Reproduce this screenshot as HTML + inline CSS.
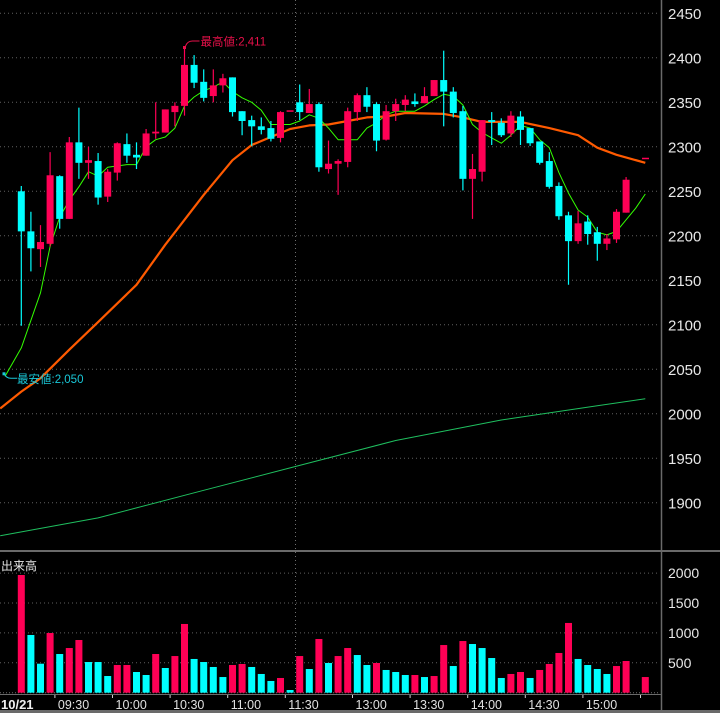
<!DOCTYPE html>
<html><head><meta charset="utf-8">
<style>
html,body{margin:0;padding:0;background:#000;}
svg{display:block;}
text{font-family:"Liberation Sans","Noto Sans CJK JP",sans-serif;}
</style></head>
<body>
<svg id="chart" width="720" height="713" viewBox="0 0 720 713" xmlns="http://www.w3.org/2000/svg">
<rect x="0" y="0" width="720" height="713" fill="#000"/>
<g id="grid"></g>
<g id="ma"></g>
<g id="candles"></g>
<g id="vol"></g>
<g id="axes"></g>
</svg>
<script>
const opens  = [2250,2205,2185,2191,2267,2219,2305,2282,2284,2244,2271,2303,2291,2290,2315,2316,2339,2346,2392,2373,2357,2369,2378,2340,2330,2323,2321,2310,2341,2350,2338,2348,2275,2281,2283,2339,2358,2348,2308,2340,2347,2351,2349,2357,2375,2362,2340,2264,2272,2330,2327,2315,2334,2321,2306,2284,2256,2223,2194,2216,2204,2191,2196,2226];
const highs  = [2256,2227,2212,2294,2268,2311,2344,2300,2293,2275,2305,2315,2305,2320,2350,2342,2350,2411,2403,2387,2387,2382,2378,2340,2335,2333,2329,2340,2341,2370,2365,2350,2307,2286,2344,2360,2367,2350,2347,2354,2358,2360,2367,2375,2408,2367,2346,2292,2330,2339,2332,2340,2340,2321,2306,2294,2260,2227,2228,2223,2210,2202,2230,2266];
const lows   = [2099,2160,2165,2188,2208,2219,2264,2264,2235,2238,2262,2282,2275,2290,2309,2316,2323,2335,2366,2351,2350,2361,2334,2313,2301,2314,2306,2305,2341,2330,2338,2272,2270,2246,2277,2329,2339,2295,2307,2329,2340,2345,2349,2357,2323,2333,2251,2219,2261,2302,2311,2311,2302,2301,2280,2253,2218,2145,2191,2190,2172,2184,2192,2226];
const closes = [2205,2186,2193,2268,2219,2305,2282,2285,2243,2272,2304,2290,2288,2315,2317,2342,2346,2392,2372,2355,2369,2377,2339,2329,2323,2319,2309,2339,2341,2339,2348,2277,2281,2284,2340,2358,2345,2307,2340,2348,2353,2348,2357,2375,2362,2338,2264,2275,2330,2328,2313,2335,2319,2304,2282,2255,2222,2194,2214,2202,2191,2197,2227,2263];
const volumes = [1968,965,485,998,647,747,881,513,513,279,463,463,346,296,647,413,613,1149,564,513,430,262,463,480,430,313,196,246,45,613,396,898,497,613,747,630,463,497,380,346,296,296,262,279,797,446,864,814,747,580,246,313,346,246,380,480,664,1166,564,463,396,313,446,530,0,262];
const volUp = [1,0,0,1,0,1,1,0,0,0,1,1,0,0,1,0,1,1,0,0,0,0,1,1,0,0,0,1,0,1,0,1,0,1,1,0,0,1,0,0,0,1,0,1,1,0,1,0,0,0,0,1,1,0,1,1,1,1,0,0,0,0,1,1,0,1];
const maShortIdx = [-1.7,0,2,3,4,5,6,7,8,9,11,12,13,14,15,16,17,18,19,20,21,22,23,24,25,26,27,28,29,30,31,32,33,34,35,36,37,38,39,40,41,42,43,44,45,46,47,48,49,50,51,52,53,54,55,56,57,58,59,60,61,62,63,64,65];
const maShort = [2042,2074,2136,2188,2221,2240,2255,2272,2267,2277,2280,2280,2300,2308,2311,2321,2346,2356,2363,2367,2373,2362,2355,2350,2341,2325,2325,2325,2329,2336,2332,2321,2308,2308,2308,2321,2327,2336,2340,2340,2340,2346,2353,2359,2357,2347,2325,2316,2310,2304,2313,2324,2321,2308,2299,2271,2248,2229,2221,2204,2201,2205,2218,2231,2247];
const maMidIdx = [-2.2,0,2,5,8,12,15,19,22,24,26,28,30,32,34,36,38,40,44,46,48,52,55,58,60,62,65];
const maMid = [2006,2025,2040,2072,2103,2145,2190,2246,2285,2302,2311,2320,2324,2325,2329,2333,2334,2338,2337,2333,2328,2328,2321,2313,2299,2291,2282];
const maLongIdx = [-2.2,8,19,29,39,50,60,65];
const maLong = [1863,1883,1914,1942,1970,1993,2009,2017];
const priceTicks = [2450,2400,2350,2300,2250,2200,2150,2100,2050,2000,1950,1900];
const volTicks = [2000,1500,1000,500];
const timeTickIdx = [3.5,9.5,15.5,21.5,27.5,34.5,40.5,46.5,52.5,58.5,64.5];
const timeLabels = ["09:30","10:00","10:30","11:00","11:30","13:00","13:30","14:00","14:30","15:00",""];
const highLabel = "最高値:2,411", lowLabel = "最安値:2,050";
const highVal = 2411, highIdx = 17, lowVal = 2050;

const NS="http://www.w3.org/2000/svg";
const xI = i => 21.3 + i*9.6;
const yP = p => 102.3 + (2350-p)*0.89;
const yV = v => 692.7 - v/16.72;
const RED="#ff0055", CYAN="#00ffff";
function mk(tag, attrs, parent){const e=document.createElementNS(NS,tag);for(const k in attrs)e.setAttribute(k,attrs[k]);parent.appendChild(e);return e;}
const G=id=>document.getElementById(id);

// grid
const grid=G('grid');
priceTicks.forEach(p=>{const l=mk('line',{x1:0,x2:660,y1:yP(p),y2:yP(p),stroke:'#606060','stroke-width':1,'stroke-dasharray':'1 3'},grid);

});
volTicks.forEach(v=>{const l=mk('line',{x1:0,x2:660,y1:yV(v),y2:yV(v),stroke:'#606060','stroke-width':1,'stroke-dasharray':'1 3'},grid);

});
{const l=mk('line',{x1:0,x2:660,y1:yV(0),y2:yV(0),stroke:'#707070','stroke-width':1,'stroke-dasharray':'1 2'},grid);

}
{const l=mk('line',{x1:295.5,x2:295.5,y1:0,y2:692,stroke:'#707070','stroke-width':1,'stroke-dasharray':'1 3'},grid);

}

// MAs
const ma=G('ma');
function poly(idx,vals,color,w,name){const pts=idx.map((i,k)=>xI(i).toFixed(1)+','+yP(vals[k]).toFixed(1)).join(' ');
const e=mk('polyline',{points:pts,fill:'none',stroke:color,'stroke-width':w,'stroke-linejoin':'round'},ma);

}
poly(maLongIdx,maLong,'#1fbf5f',1,'long-ma-line');
poly(maMidIdx,maMid,'#ff5a00',2.2,'mid-ma-line');
poly(maShortIdx,maShort,'#33ff00',1,'short-ma-line');
{const e=mk('line',{x1:642,x2:649,y1:158.5,y2:158.5,stroke:RED,'stroke-width':1.5},ma);

}

// candles
const cg=G('candles');
opens.forEach((o,i)=>{const c=closes[i],up=c>=o,col=up?RED:CYAN,x=xI(i);
const w=mk('line',{x1:x,x2:x,y1:yP(highs[i]),y2:yP(lows[i]),stroke:col,'stroke-width':1.2},cg);


const top=yP(Math.max(o,c)),h=Math.max(1.5,Math.abs(yP(o)-yP(c)));
const b=mk('rect',{x:x-3.5,y:top,width:7,height:h,fill:col},cg);

});

// volume
const vg=G('vol');
volumes.forEach((v,i)=>{if(v<=0)return;const x=xI(i);
const r=mk('rect',{x:x-3.5,y:yV(v),width:7,height:yV(0)-yV(v),fill:volUp[i]?RED:CYAN},vg);

});

// axes
const ax=G('axes');
{const e=mk('rect',{x:0,y:550,width:720,height:2,fill:'#6a6a6a'},ax);

}
{const e=mk('rect',{x:0,y:710,width:720,height:3,fill:'#6a6a6a'},ax);

}
{const e=mk('line',{x1:661.5,x2:661.5,y1:0,y2:713,stroke:'#6a6a6a','stroke-width':1.5},ax);

}
{const e=mk('line',{x1:0,x2:661,y1:694.5,y2:694.5,stroke:'#6a6a6a','stroke-width':1},ax);

}
priceTicks.forEach(p=>{if(p<1880)return;const t=mk('text',{x:668,y:yP(p)+5.5,fill:'#e8e8e8','font-size':15},ax);t.textContent=p;

});
volTicks.forEach(v=>{const t=mk('text',{x:668,y:yV(v)+5,fill:'#e8e8e8','font-size':14},ax);t.textContent=v;

});
timeTickIdx.forEach((ti,k)=>{const x=xI(ti);
const tk=mk('line',{x1:x,x2:x,y1:695,y2:698,stroke:'#ccc','stroke-width':1},ax);


if(timeLabels[k]){const t=mk('text',{x:x+3,y:709,fill:'#e0e0e0','font-size':12.5},ax);t.textContent=timeLabels[k];

}});
{const t=mk('text',{x:1,y:709,fill:'#f0f0f0','font-size':13,'font-weight':'bold'},ax);t.textContent='10/21';

}
{const t=mk('text',{x:1,y:570,fill:'#e8e8e8','font-size':12},ax);t.textContent='出来高';

}
// high label
{const hx=xI(highIdx),hy=yP(highVal);
const p=mk('path',{d:`M${hx+1},${hy-2} Q${hx+3},${hy-7} ${hx+8},${hy-7} L${hx+15},${hy-7}`,fill:'none',stroke:'#e8104a','stroke-width':1},ax);


const d=mk('rect',{x:hx-1.5,y:hy-2,width:3,height:3,fill:'#e8104a'},ax);


const t=mk('text',{x:hx+16,y:hy-2.5,fill:'#e8104a','font-size':11.5},ax);t.textContent=highLabel;

}
// low label
{const ly=yP(lowVal);
const p=mk('path',{d:`M4,${ly+4} Q6,${ly+9} 11,${ly+9} L17,${ly+9}`,fill:'none',stroke:'#19c8d8','stroke-width':1},ax);


const d=mk('rect',{x:2.5,y:ly+3,width:3,height:3,fill:'#19c8d8'},ax);


const t=mk('text',{x:17,y:ly+13.5,fill:'#19c8d8','font-size':11.5},ax);t.textContent=lowLabel;

}
</script>
</body></html>
